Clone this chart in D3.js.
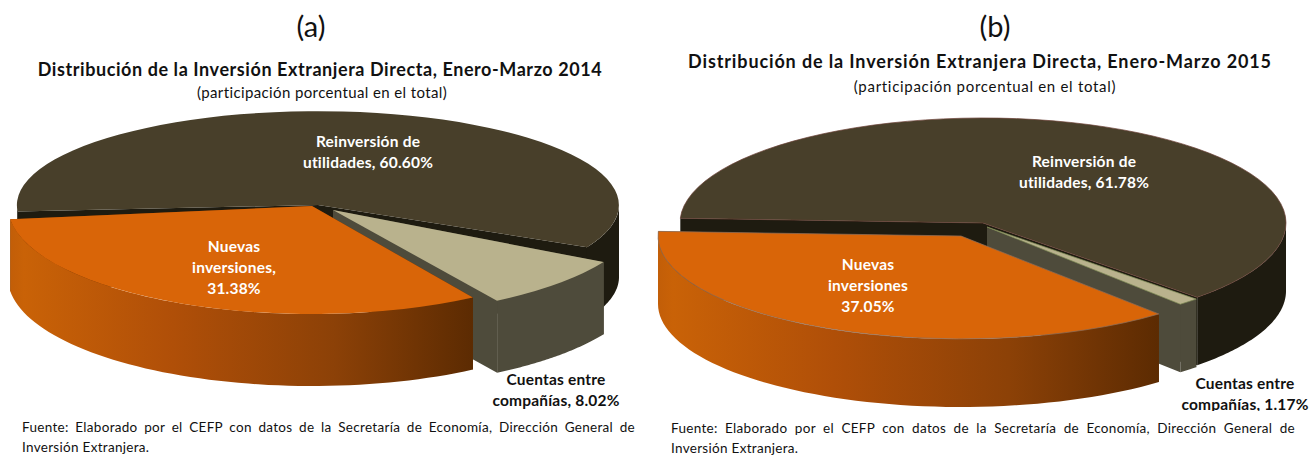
<!DOCTYPE html>
<html><head><meta charset="utf-8">
<script src="https://cdn.jsdelivr.net/npm/d3@7"></script>
<style>html,body{margin:0;background:#fff}svg{display:block}text{font-family:Lato,"Open Sans",sans-serif}</style>
</head><body><div id="c"></div>
<script>
const categories = ["Reinversión de utilidades", "Cuentas entre compañías", "Nuevas inversiones"];
const values2014 = [60.60, 8.02, 31.38];
const values2015 = [61.78, 1.17, 37.05];
const labels2014 = [["Reinversión de","utilidades, 60.60%"],["Cuentas entre","compañías, 8.02%"],["Nuevas","inversiones,","31.38%"]];
const labels2015 = [["Reinversión de","utilidades, 61.78%"],["Cuentas entre","compañías, 1.17%"],["Nuevas","inversiones","37.05%"]];
const titles = ["Distribución de la Inversión Extranjera Directa, Enero-Marzo 2014","Distribución de la Inversión Extranjera Directa, Enero-Marzo 2015"];
const subtitle = "(participación porcentual en el total)";
const panelNames = ["(a)","(b)"];
const source = ["Fuente: Elaborado por el CEFP con datos de la Secretaría de Economía, Dirección General de","Inversión Extranjera."];

const W=1313,H=455,D=Math.PI/180;
const topColors=["#483F2A","#B9B28D","#D96508"];
const sideColors=["#1E1B10","#4E4B3B","url(#og)"];
const wallColors=["#1E1B10","#4E4B3B","#6b3304"];
const labelColors=["#fff","#111","#fff"];

const layouts=[
 {values:values2014,labels:labels2014,start:261,depth:72,
  slices:[{cx:318,cy:205,rx:301,ry:94,trim:[5,-2.5]},{cx:333,cy:210,rx:310,ry:107,trim:[0,0]},{cx:312,cy:206,rx:304,ry:108,trim:[0,2]}],
  head:{x:311,y:37},title:{x:320,y:76,w:564},sub:{x:322,y:98,w:250},
  lab:[{x:368,y:147},{x:556,y:385},{x:234,y:252}],src:{x:22,y:432,w:613},stroke:["none","none","none"]},
 {values:values2015,labels:labels2015,start:272.6,depth:68,
  slices:[{cx:983,cy:223,rx:303,ry:105,trim:[0,0]},{cx:987,cy:227,rx:296,ry:102,trim:[0,0]},{cx:961,cy:236,rx:303,ry:103,trim:[0,0]}],
  head:{x:995,y:37},title:{x:980,y:68,w:583},sub:{x:985,y:92,w:262},
  lab:[{x:1084,y:167},{x:1245,y:389},{x:868,y:270}],src:{x:671,y:433,w:624},stroke:["#6a3f35","#7d8a55","#8a7060"]}
];

const svg=d3.select("#c").append("svg").attr("width",W).attr("height",H);
svg.append("rect").attr("width",W).attr("height",H).attr("fill","#fff");
const grad=svg.append("defs").append("linearGradient").attr("id","og");
[[0,"#C25E08"],[.03,"#C96207"],[.35,"#B04F08"],[.7,"#8C4107"],[1,"#5C2B02"]].forEach(s=>grad.append("stop").attr("offset",s[0]).attr("stop-color",s[1]));

const pt=(s,a)=>[s.cx+s.rx*Math.sin(a),s.cy-s.ry*Math.cos(a)];
const line=d3.line();

function sideRuns(a0,a1){
  const runs=[];
  for(let k=-1;k<3;k++){
    const lo=Math.max(a0,Math.PI/2+2*Math.PI*k),hi=Math.min(a1,3*Math.PI/2+2*Math.PI*k);
    if(hi>lo) runs.push([lo,hi]);
  }
  return runs;
}

layouts.forEach(L=>{
  const g=svg.append("g");
  const pie=d3.pie().sort(null).startAngle(L.start*D).endAngle((L.start+360)*D)(L.values);
  const arc=d3.arc().innerRadius(0).outerRadius(1);
  pie.forEach((d,i)=>{
    const s=L.slices[i], sg=g.append("g");
    const a0=d.startAngle+s.trim[0]*D, a1=d.endAngle+s.trim[1]*D;
    [a0,a1].forEach(a=>{
      const p=pt(s,a);
      sg.append("path").attr("fill",wallColors[i]).attr("d",line([[s.cx,s.cy],p,[p[0],p[1]+L.depth],[s.cx,s.cy+L.depth]])+"Z");
    });
    sideRuns(a0,a1).forEach(r=>{
      const as=d3.range(0,61).map(t=>r[0]+(r[1]-r[0])*t/60);
      const top=as.map(a=>pt(s,a));
      const bot=as.map(a=>pt(s,a)).reverse().map(p=>[p[0],p[1]+L.depth]);
      sg.append("path").attr("fill",sideColors[i]).attr("d",line(top.concat(bot))+"Z");
    });
    sg.append("path").attr("fill",topColors[i]).attr("stroke",L.stroke[i]).attr("stroke-width",.7)
      .attr("vector-effect","non-scaling-stroke")
      .attr("transform",`translate(${s.cx},${s.cy}) scale(${s.rx},${s.ry})`)
      .attr("d",arc({startAngle:a0,endAngle:a1}));
  });
  L.labels.forEach((ls,i)=>{
    ls.forEach((t,j)=>g.append("text").text(t).attr("x",L.lab[i].x).attr("y",L.lab[i].y+j*21)
      .attr("text-anchor","middle").attr("font-size",15.5).attr("letter-spacing",.2).attr("font-weight",700).attr("fill",labelColors[i]));
  });
});
svg.append("rect").attr("x",1165).attr("y",411).attr("width",148).attr("height",8).attr("fill","#fff");

function fit(sel,w,n){
  const tw=sel.node().getComputedTextLength();
  sel.attr("letter-spacing",(w-tw)/(n-1));
}
layouts.forEach((L,n)=>{
  svg.append("text").text(panelNames[n]).attr("x",L.head.x).attr("y",L.head.y).attr("text-anchor","middle").attr("font-size",29).attr("fill","#111");
  const t=svg.append("text").text(titles[n]).attr("x",L.title.x).attr("y",L.title.y).attr("text-anchor","middle").attr("font-size",18).attr("font-weight",700).attr("fill","#111");
  fit(t,L.title.w,titles[n].length);
  const u=svg.append("text").text(subtitle).attr("x",L.sub.x).attr("y",L.sub.y).attr("text-anchor","middle").attr("font-size",15).attr("fill","#111");
  fit(u,L.sub.w,subtitle.length);
  source.forEach((s,j)=>{
    const e=svg.append("text").text(s).attr("x",L.src.x).attr("y",L.src.y+j*19.5).attr("font-size",13.5).attr("letter-spacing",.3).attr("fill","#111");
    if(j===0){
      const w=e.node().getComputedTextLength(),gaps=s.split(" ").length-1;
      e.attr("word-spacing",(L.src.w-w)/gaps);
    }
  });
});
</script></body></html>
